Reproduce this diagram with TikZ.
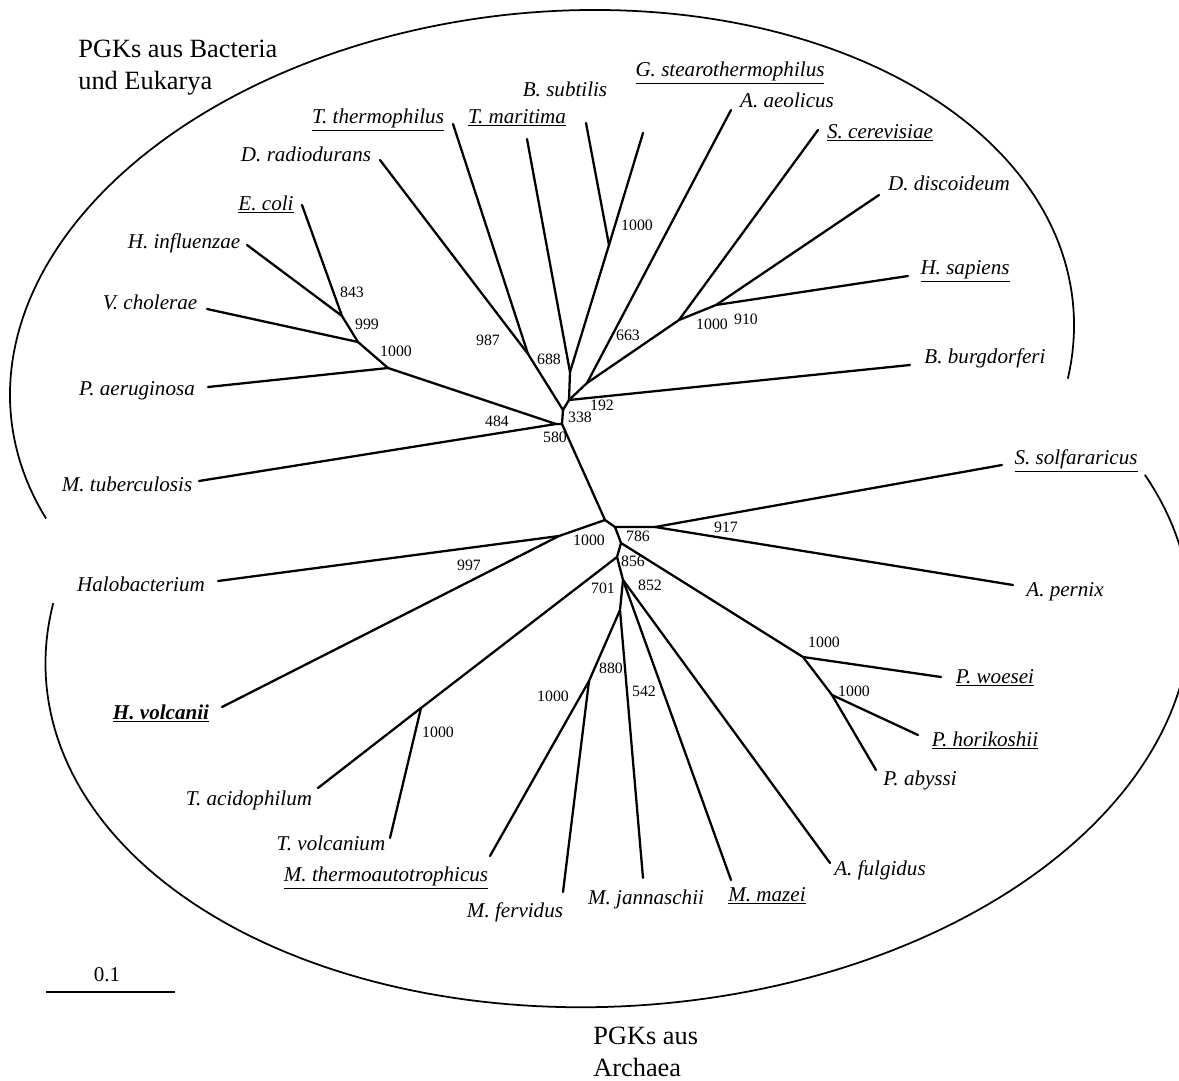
\documentclass[tikz,border=0pt]{standalone}
\usepackage{fontspec}
\setmainfont{Liberation Serif}
\tikzset{
    % Texts
    leaf/.style    = {font=\fontsize{12}{14}\selectfont\itshape, inner sep=0pt, anchor=mid},
    boot/.style    = {font=\fontsize{9}{10}\selectfont, inner sep=0pt, anchor=mid},
    heading/.style = {font=\fontsize{15}{18.2}\selectfont, inner sep=0pt, align=left, anchor=north west},
    % Lines
    branch/.style  = {line width=1.3pt, line cap=round, line join=round},
    clade/.style   = {line width=1pt},
    scalebar/.style = {line width=1.3pt}
}

\begin{document}
\begin{tikzpicture}[x=0.02cm, y=-0.02cm]
    \useasboundingbox (0,0) rectangle (1179,1081);
    \clip (0,0) rectangle (1179,1081);

    % Inner nodes
    \coordinate (n843) at (342,316);
    \coordinate (n999) at (358,342);
    \coordinate (npae) at (388,368);
    \coordinate (n484) at (556,424);
    \coordinate (n580) at (562,424);
    \coordinate (n338) at (563,410);
    \coordinate (n688) at (528,354);
    \coordinate (n192) at (569,400);
    \coordinate (nmar) at (570,372);
    \coordinate (nsub) at (609,245);
    \coordinate (naeo) at (587,383);
    \coordinate (n663) at (679,320);
    \coordinate (n910) at (716,305);
    \coordinate (nroot) at (605,520);
    \coordinate (nhalo) at (559,536);
    \coordinate (n786) at (615,527);
    \coordinate (n917) at (655,527);
    \coordinate (npb) at (621,543);
    \coordinate (n856) at (617,557);
    \coordinate (nthe) at (421,708);
    \coordinate (n852) at (623,580);
    \coordinate (n880) at (620,610);
    \coordinate (nmet) at (589,681);
    \coordinate (npyr) at (803,657);
    \coordinate (nhor) at (832,695);

    % Leaves
    \coordinate (t-ecoli) at (302,205);
    \coordinate (t-hinf) at (247,245);
    \coordinate (t-vcho) at (207,309);
    \coordinate (t-paer) at (208,387);
    \coordinate (t-mtub) at (199,481);
    \coordinate (t-drad) at (380,160);
    \coordinate (t-tthe) at (453,124);
    \coordinate (t-tmar) at (527,139);
    \coordinate (t-bsub) at (586,123);
    \coordinate (t-gste) at (643,133);
    \coordinate (t-aaeo) at (731,110);
    \coordinate (t-scer) at (818,130);
    \coordinate (t-ddis) at (879,195);
    \coordinate (t-hsap) at (908,276);
    \coordinate (t-bbur) at (910,365);
    \coordinate (t-ssol) at (1002,465);
    \coordinate (t-aper) at (1013,585);
    \coordinate (t-pwoe) at (941,677);
    \coordinate (t-phor) at (918,735);
    \coordinate (t-paby) at (876,770);
    \coordinate (t-afug) at (830,863);
    \coordinate (t-mmaz) at (731,880);
    \coordinate (t-mjan) at (643,878);
    \coordinate (t-mfer) at (563,892);
    \coordinate (t-mthe) at (490,856);
    \coordinate (t-tvol) at (390,838);
    \coordinate (t-taci) at (318,788);
    \coordinate (t-hvol) at (222,707);
    \coordinate (t-halo) at (218,581);

    % Species
    \node[leaf] (l-ecoli) at (266,206) {\underline{E. coli}};
    \node[leaf] (l-hinf) at (184,244) {H. influenzae};
    \node[leaf] (l-vcho) at (150,305) {V. cholerae};
    \node[leaf] (l-paer) at (137,391) {P. aeruginosa};
    \node[leaf] (l-mtub) at (127,487) {M. tuberculosis};
    \node[leaf] (l-drad) at (306,157) {D. radiodurans};
    \node[leaf] (l-tthe) at (378,119) {\underline{T. thermophilus}};
    \node[leaf] (l-tmar) at (517,119) {\underline{T. maritima}};
    \node[leaf] (l-bsub) at (565,92) {B. subtilis};
    \node[leaf] (l-gste) at (730,72) {\underline{G. stearothermophilus}};
    \node[leaf] (l-aaeo) at (787,103) {A. aeolicus};
    \node[leaf] (l-scer) at (880,134) {\underline{S. cerevisiae}};
    \node[leaf] (l-ddis) at (949,186) {D. discoideum};
    \node[leaf] (l-hsap) at (965,270) {\underline{H. sapiens}};
    \node[leaf] (l-bbur) at (985,359) {B. burgdorferi};
    \node[leaf] (l-ssol) at (1076,460) {\underline{S. solfararicus}};
    \node[leaf] (l-aper) at (1065,592) {A. pernix};
    \node[leaf] (l-pwoe) at (995,679) {\underline{P. woesei}};
    \node[leaf] (l-phor) at (985,742) {\underline{P. horikoshii}};
    \node[leaf] (l-paby) at (920,781) {P. abyssi};
    \node[leaf] (l-afug) at (880,871) {A. fulgidus};
    \node[leaf] (l-mmaz) at (767,897) {\underline{M. mazei}};
    \node[leaf] (l-mjan) at (646,900) {M. jannaschii};
    \node[leaf] (l-mfer) at (515,913) {M. fervidus};
    \node[leaf] (l-mthe) at (386,877) {\underline{M. thermoautotrophicus}};
    \node[leaf] (l-tvol) at (331,846) {T. volcanium};
    \node[leaf] (l-taci) at (249,801) {T. acidophilum};
    \node[leaf] (l-hvol) at (161,715) {\textbf{\underline{H. volcanii}}};
    \node[leaf] (l-halo) at (141,587) {Halobacterium};

    % Bootstrap values
    \node[boot] (b843) at (352,293) {843};
    \node[boot] (b999) at (367,325) {999};
    \node[boot] (bpae) at (396,352) {1000};
    \node[boot] (b987) at (488,341) {987};
    \node[boot] (b688) at (549,360) {688};
    \node[boot] (b484) at (497,422) {484};
    \node[boot] (b338) at (580,418) {338};
    \node[boot] (b580) at (555,438) {580};
    \node[boot] (b192) at (602,406) {192};
    \node[boot] (bsub) at (637,226) {1000};
    \node[boot] (b663) at (628,336) {663};
    \node[boot] (b1000e) at (712,325) {1000};
    \node[boot] (b910) at (746,320) {910};
    \node[boot] (bhalo) at (589,541) {1000};
    \node[boot] (b997) at (469,566) {997};
    \node[boot] (b786) at (638,537) {786};
    \node[boot] (b917) at (726,528) {917};
    \node[boot] (b856) at (633,562) {856};
    \node[boot] (b852) at (650,586) {852};
    \node[boot] (b701) at (603,589) {701};
    \node[boot] (b880) at (611,669) {880};
    \node[boot] (b542) at (644,692) {542};
    \node[boot] (bmet) at (553,697) {1000};
    \node[boot] (bthe) at (438,733) {1000};
    \node[boot] (bpyr) at (824,643) {1000};
    \node[boot] (bhor) at (854,692) {1000};

    % Group labels
    \node[heading] (bact) at (78,40) {PGKs aus Bacteria\\und Eukarya};
    \node[heading] (arch) at (593,1027) {PGKs aus\\Archaea};

    % Edges: Bacteria and Eukarya
    \draw[branch] (t-ecoli) -- (n843) -- (t-hinf);
    \draw[branch] (n843) -- (n999) -- (t-vcho);
    \draw[branch] (n999) -- (npae) -- (t-paer);
    \draw[branch] (npae) -- (n484) -- (t-mtub);
    \draw[branch] (n484) -- (n580) -- (nroot);
    \draw[branch] (n580) -- (n338) -- (n688) -- (t-drad);
    \draw[branch] (n688) -- (t-tthe);
    \draw[branch] (n338) -- (n192) -- (t-bbur);
    \draw[branch] (n192) -- (nmar) -- (t-tmar);
    \draw[branch] (nmar) -- (nsub) -- (t-bsub);
    \draw[branch] (nsub) -- (t-gste);
    \draw[branch] (n192) -- (naeo) -- (t-aaeo);
    \draw[branch] (naeo) -- (n663) -- (t-scer);
    \draw[branch] (n663) -- (n910) -- (t-ddis);
    \draw[branch] (n910) -- (t-hsap);

    % Edges: Archaea
    \draw[branch] (nroot) -- (nhalo) -- (t-halo);
    \draw[branch] (nhalo) -- (t-hvol);
    \draw[branch] (nroot) -- (n786) -- (n917) -- (t-ssol);
    \draw[branch] (n917) -- (t-aper);
    \draw[branch] (n786) -- (npb) -- (npyr) -- (t-pwoe);
    \draw[branch] (npyr) -- (nhor) -- (t-phor);
    \draw[branch] (nhor) -- (t-paby);
    \draw[branch] (npb) -- (n856) -- (nthe) -- (t-taci);
    \draw[branch] (nthe) -- (t-tvol);
    \draw[branch] (n856) -- (n852) -- (t-afug);
    \draw[branch] (n852) -- (t-mmaz);
    \draw[branch] (n852) -- (n880) -- (t-mjan);
    \draw[branch] (n880) -- (nmet) -- (t-mthe);
    \draw[branch] (nmet) -- (t-mfer);

    % Clade outlines (tilted ellipse arcs)
    \draw[clade] plot[domain=163:373, samples=150, variable=\t]
        ({542+530.6*cos(\t)+39.3*sin(\t)}, {360-60.4*cos(\t)+344.8*sin(\t)});
    \draw[clade] plot[domain=-20.5:192, samples=150, variable=\t]
        ({618+572*cos(\t)+25.5*sin(\t)}, {640-39.9*cos(\t)+365.1*sin(\t)});

    % Scale
    \coordinate (sb-l) at (46,992);
    \coordinate (sb-r) at (175,992);
    \draw[scalebar] (sb-l) -- (sb-r);
    \node[font=\fontsize{12}{14}\selectfont, inner sep=0pt, anchor=mid] (sb) at (107,977) {0.1};
\end{tikzpicture}
\end{document}
